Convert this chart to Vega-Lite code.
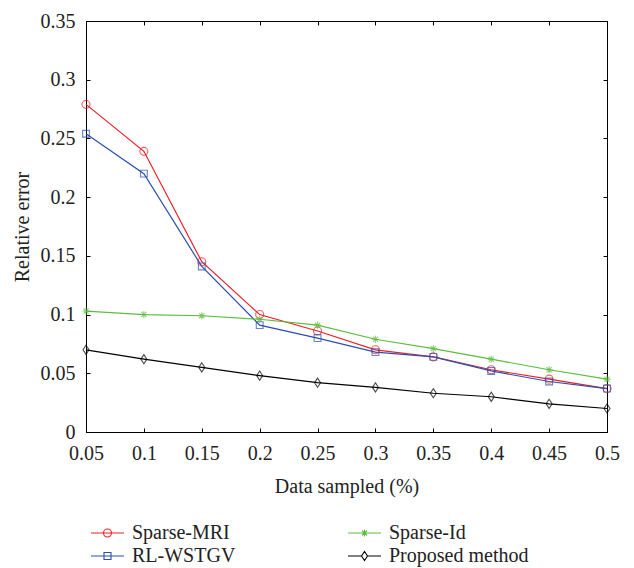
{
  "$schema": "https://vega.github.io/schema/vega-lite/v6.json",
  "autosize": {"type": "none"},
  "width": 521,
  "height": 411,
  "padding": {"left": 86, "top": 21, "right": 27, "bottom": 136},
  "background": "white",
  "config": {
    "view": {"stroke": "black", "strokeWidth": 1},
    "font": "Liberation Serif",
    "axis": {
      "labelFont": "Liberation Serif",
      "titleFont": "Liberation Serif",
      "labelFontSize": 20,
      "titleFontSize": 20,
      "titleFontWeight": "normal",
      "labelColor": "#222",
      "titleColor": "#222",
      "domainColor": "black",
      "tickColor": "black",
      "tickSize": -4,
      "labelFlush": false,
      "labelOverlap": false,
      "grid": false
    },
    "legend": {
      "labelFont": "Liberation Serif",
      "labelFontSize": 20,
      "labelColor": "#222"
    }
  },
  "data": {
    "values": [
      {"x": 0.05, "y": 0.279, "method": "Sparse-MRI"},
      {"x": 0.10, "y": 0.239, "method": "Sparse-MRI"},
      {"x": 0.15, "y": 0.145, "method": "Sparse-MRI"},
      {"x": 0.20, "y": 0.100, "method": "Sparse-MRI"},
      {"x": 0.25, "y": 0.086, "method": "Sparse-MRI"},
      {"x": 0.30, "y": 0.070, "method": "Sparse-MRI"},
      {"x": 0.35, "y": 0.064, "method": "Sparse-MRI"},
      {"x": 0.40, "y": 0.053, "method": "Sparse-MRI"},
      {"x": 0.45, "y": 0.045, "method": "Sparse-MRI"},
      {"x": 0.50, "y": 0.037, "method": "Sparse-MRI"},
      {"x": 0.05, "y": 0.254, "method": "RL-WSTGV"},
      {"x": 0.10, "y": 0.220, "method": "RL-WSTGV"},
      {"x": 0.15, "y": 0.141, "method": "RL-WSTGV"},
      {"x": 0.20, "y": 0.091, "method": "RL-WSTGV"},
      {"x": 0.25, "y": 0.080, "method": "RL-WSTGV"},
      {"x": 0.30, "y": 0.068, "method": "RL-WSTGV"},
      {"x": 0.35, "y": 0.064, "method": "RL-WSTGV"},
      {"x": 0.40, "y": 0.052, "method": "RL-WSTGV"},
      {"x": 0.45, "y": 0.043, "method": "RL-WSTGV"},
      {"x": 0.50, "y": 0.037, "method": "RL-WSTGV"},
      {"x": 0.05, "y": 0.103, "method": "Sparse-Id"},
      {"x": 0.10, "y": 0.100, "method": "Sparse-Id"},
      {"x": 0.15, "y": 0.099, "method": "Sparse-Id"},
      {"x": 0.20, "y": 0.096, "method": "Sparse-Id"},
      {"x": 0.25, "y": 0.091, "method": "Sparse-Id"},
      {"x": 0.30, "y": 0.079, "method": "Sparse-Id"},
      {"x": 0.35, "y": 0.071, "method": "Sparse-Id"},
      {"x": 0.40, "y": 0.062, "method": "Sparse-Id"},
      {"x": 0.45, "y": 0.053, "method": "Sparse-Id"},
      {"x": 0.50, "y": 0.045, "method": "Sparse-Id"},
      {"x": 0.05, "y": 0.070, "method": "Proposed method"},
      {"x": 0.10, "y": 0.062, "method": "Proposed method"},
      {"x": 0.15, "y": 0.055, "method": "Proposed method"},
      {"x": 0.20, "y": 0.048, "method": "Proposed method"},
      {"x": 0.25, "y": 0.042, "method": "Proposed method"},
      {"x": 0.30, "y": 0.038, "method": "Proposed method"},
      {"x": 0.35, "y": 0.033, "method": "Proposed method"},
      {"x": 0.40, "y": 0.030, "method": "Proposed method"},
      {"x": 0.45, "y": 0.024, "method": "Proposed method"},
      {"x": 0.50, "y": 0.020, "method": "Proposed method"}
    ]
  },
  "resolve": {"axis": {"x": "independent", "y": "independent"}},
  "layer": [
    {
      "mark": {"type": "line", "strokeWidth": 1.2},
      "encoding": {
        "x": {
          "field": "x", "type": "quantitative",
          "scale": {"domain": [0.05, 0.5], "nice": false, "zero": false},
          "axis": {
            "values": [0.05, 0.1, 0.15, 0.2, 0.25, 0.3, 0.35, 0.4, 0.45, 0.5],
            "format": ".2~f", "labelPadding": 15, "title": "Data sampled (%)", "titlePadding": 13
          }
        },
        "y": {
          "field": "y", "type": "quantitative",
          "scale": {"domain": [0, 0.35], "nice": false},
          "axis": {
            "values": [0, 0.05, 0.1, 0.15, 0.2, 0.25, 0.3, 0.35],
            "format": ".2~f", "labelPadding": 15, "title": "Relative error", "titlePadding": 8
          }
        },
        "color": {
          "field": "method", "type": "nominal",
          "scale": {
            "domain": ["Sparse-MRI", "RL-WSTGV", "Sparse-Id", "Proposed method"],
            "range": ["#ee1f26", "#2b4fae", "#5cbd3e", "#000000"]
          },
          "legend": {
            "title": null,
            "orient": "none",
            "legendX": 0,
            "legendY": 502,
            "columns": 2,
            "columnPadding": 107,
            "rowPadding": 3,
            "symbolSize": 100,
            "symbolStrokeWidth": 1.1,
            "labelOffset": 26,
            "encode": {
              "symbols": {
                "update": {
                  "fill": {"value": "transparent"},
                  "shape": {"signal": "datum.value === 'Sparse-MRI' ? 'M-1,0L5.6,0M1.5,0A0.8,0.8 0 1,0 3.1,0A0.8,0.8 0 1,0 1.5,0' : datum.value === 'RL-WSTGV' ? 'M-1,0L5.6,0M1.6,-0.7L3,-0.7L3,0.7L1.6,0.7Z' : datum.value === 'Sparse-Id' ? 'M-1,0L5.6,0M2.3,-0.7L2.3,0.7M1.8,-0.5L2.8,0.5M1.8,0.5L2.8,-0.5' : 'M-1,0L1.7,0M2.9,0L5.6,0M2.3,-0.9L2.9,0L2.3,0.9L1.7,0Z'"}
                }
              }
            }
          }
        }
      }
    },
    {
      "transform": [{"filter": "datum.method === 'Sparse-MRI'"}],
      "mark": {"type": "point", "filled": false, "size": 64, "strokeWidth": 1.1, "shape": "circle"},
      "encoding": {
        "x": {
          "field": "x", "type": "quantitative",
          "axis": {"orient": "top", "labels": false, "title": null,
                   "values": [0.05, 0.1, 0.15, 0.2, 0.25, 0.3, 0.35, 0.4, 0.45, 0.5]}
        },
        "y": {
          "field": "y", "type": "quantitative",
          "axis": {"orient": "right", "labels": false, "title": null,
                   "values": [0, 0.05, 0.1, 0.15, 0.2, 0.25, 0.3, 0.35]}
        },
        "color": {"field": "method", "type": "nominal", "legend": null,
                  "scale": {"domain": ["Sparse-MRI", "RL-WSTGV", "Sparse-Id", "Proposed method"]}}
      }
    },
    {
      "transform": [{"filter": "datum.method === 'RL-WSTGV'"}],
      "mark": {"type": "point", "filled": false, "size": 64, "strokeWidth": 1.1, "shape": "M-0.85,-0.85L0.85,-0.85L0.85,0.85L-0.85,0.85Z"},
      "encoding": {
        "x": {"field": "x", "type": "quantitative", "axis": null},
        "y": {"field": "y", "type": "quantitative", "axis": null},
        "color": {"field": "method", "type": "nominal", "legend": null,
                  "scale": {"domain": ["Sparse-MRI", "RL-WSTGV", "Sparse-Id", "Proposed method"]}}
      }
    },
    {
      "transform": [{"filter": "datum.method === 'Sparse-Id'"}],
      "mark": {"type": "point", "filled": false, "size": 64, "strokeWidth": 1.1, "shape": "M0,-0.9L0,0.9M-0.9,0L0.9,0M-0.65,-0.65L0.65,0.65M-0.65,0.65L0.65,-0.65"},
      "encoding": {
        "x": {"field": "x", "type": "quantitative", "axis": null},
        "y": {"field": "y", "type": "quantitative", "axis": null},
        "color": {"field": "method", "type": "nominal", "legend": null,
                  "scale": {"domain": ["Sparse-MRI", "RL-WSTGV", "Sparse-Id", "Proposed method"]}}
      }
    },
    {
      "transform": [{"filter": "datum.method === 'Proposed method'"}],
      "mark": {"type": "point", "filled": false, "size": 64, "strokeWidth": 1.1, "shape": "M0,-1.15L0.75,0L0,1.15L-0.75,0Z"},
      "encoding": {
        "x": {"field": "x", "type": "quantitative", "axis": null},
        "y": {"field": "y", "type": "quantitative", "axis": null},
        "color": {"field": "method", "type": "nominal", "legend": null,
                  "scale": {"domain": ["Sparse-MRI", "RL-WSTGV", "Sparse-Id", "Proposed method"]}}
      }
    }
  ]
}
